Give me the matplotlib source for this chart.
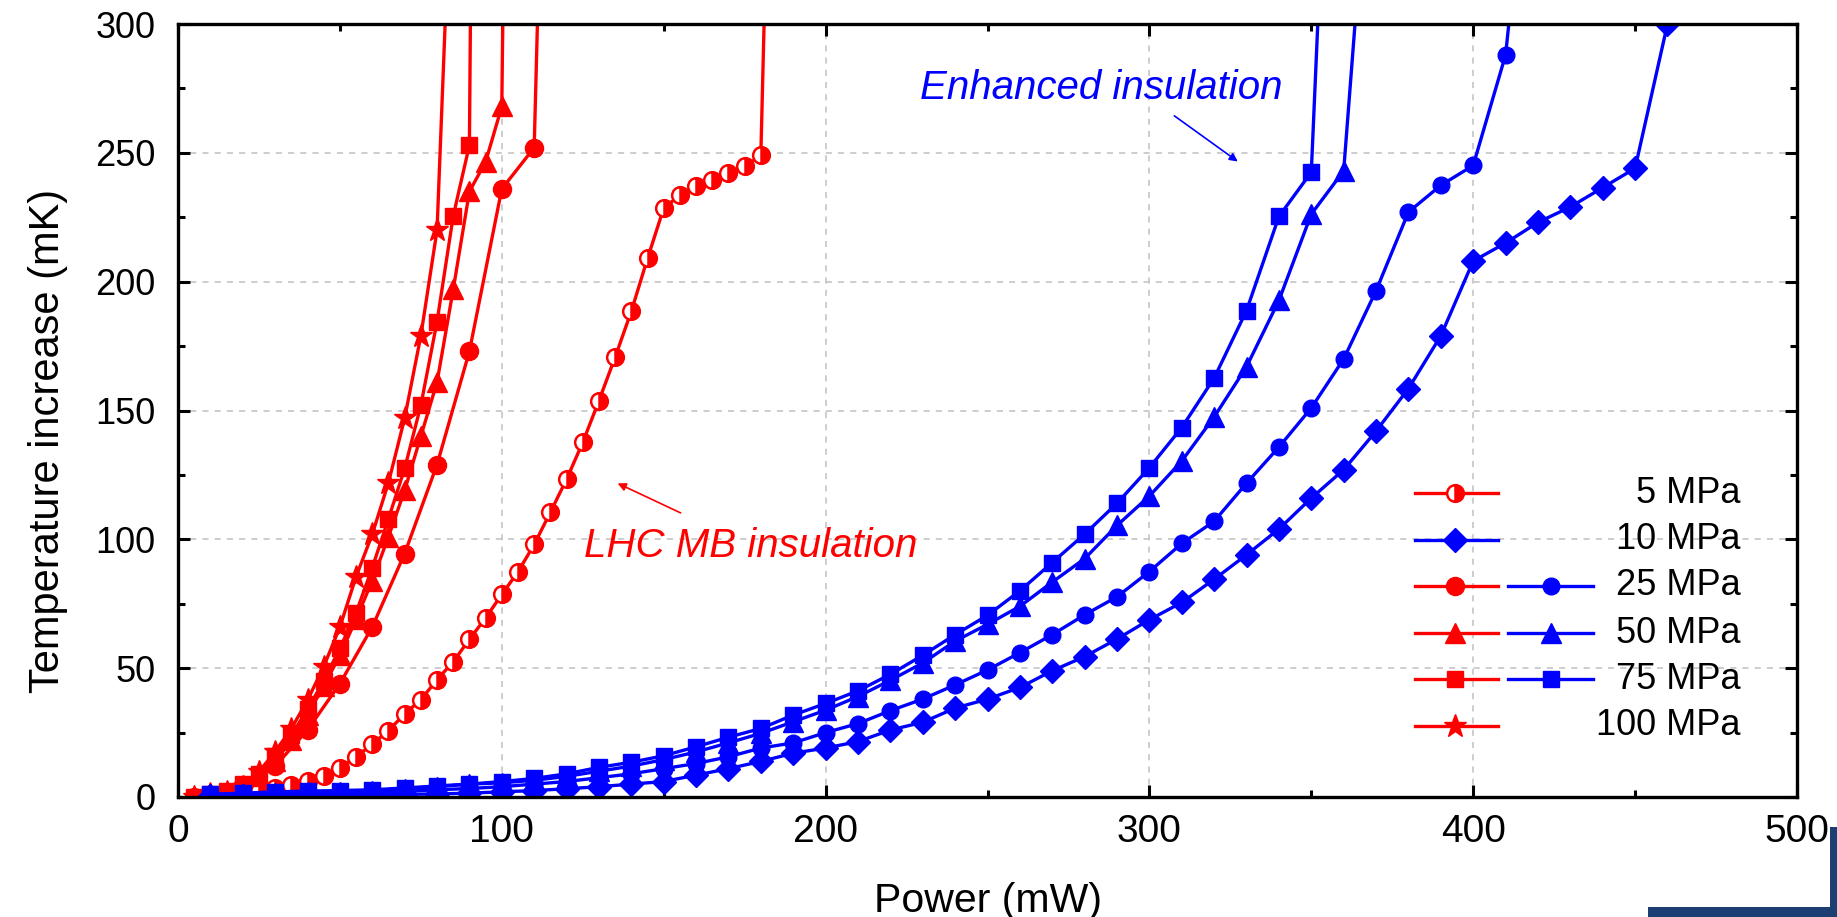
import matplotlib
matplotlib.use("Agg")
import matplotlib.pyplot as plt
from matplotlib.ticker import MultipleLocator
from matplotlib.patches import Rectangle

plt.rcParams['font.family'] = ['Liberation Sans', 'DejaVu Sans']

# ---------------- data ----------------
# LHC MB insulation (red)
red5_p = [5, 10, 15, 20, 25, 30, 35, 40, 45, 50, 55, 60, 65, 70, 75, 80, 85, 90,
          95, 100, 105, 110, 115, 120, 125, 130, 135, 140, 145, 150, 155, 160,
          165, 170, 175, 180, 181]
red5_t = [0, 0.3, 0.8, 1.5, 2.5, 3.5, 4.5, 6.2, 8.2, 11.4, 15.6, 20.5, 25.8, 32.2,
          37.8, 45.5, 52.5, 61.2, 69.5, 78.6, 87.4, 98, 110.5, 123.3, 137.6, 153.8,
          170.7, 188.5, 209, 228.5, 233.6, 237.2, 239.3, 242.3, 244.7, 249, 300]

red25_p = [10, 20, 30, 40, 50, 60, 70, 80, 90, 100, 110, 111]
red25_t = [0.8, 4.5, 12, 26, 44, 66, 94.5, 129, 173, 236, 252, 300]

red50_p = [5, 10, 15, 20, 25, 30, 35, 40, 45, 50, 55, 60, 65, 70, 75, 80, 85, 90,
           95, 100, 100.3]
red50_t = [0, 1, 2, 4, 8, 14, 22, 32, 43, 55, 69, 84, 101, 119, 140, 161, 197, 235,
           246.5, 268, 300]

red75_p = [5, 10, 15, 20, 25, 30, 35, 40, 45, 50, 55, 60, 65, 70, 75, 80, 85, 90, 90.3]
red75_t = [0, 1, 2.5, 5, 9, 16, 24, 34, 45, 57.7, 71.5, 89, 108, 127.5, 152, 184.5,
           225.5, 253, 300]

red100_p = [5, 10, 15, 20, 25, 30, 35, 40, 45, 50, 55, 60, 65, 70, 75, 80, 82.5]
red100_t = [0, 1, 2, 4, 9.8, 17.6, 26.5, 37.6, 50.6, 66, 85.5, 102, 122, 147, 179,
            220, 300]

# Enhanced insulation (blue)
blue_p = [10, 20, 30, 40, 50, 60, 70, 80, 90, 100, 110, 120, 130, 140, 150, 160,
          170, 180, 190, 200, 210, 220, 230, 240, 250, 260, 270, 280, 290, 300,
          310, 320, 330, 340, 350, 360, 370, 380, 390, 400, 410, 420, 430, 440,
          450, 460]
blue10_t = [0.5, 0.5, 0.5, 0.5, 0.5, 0.8, 1, 1.2, 1.5, 2, 2.5, 3.2, 4, 5, 6, 8.5,
            11, 13.8, 17, 19, 21.5, 26, 29, 34.5, 38, 42.5, 49, 54.5, 61.3, 68.8,
            75.5, 84.5, 94, 104, 116, 127, 142, 158.5, 179, 208, 215, 223, 229,
            236.5, 244, 300]

blue25_p = blue_p[:41] + [411]
blue25_t = [0.5, 0.7, 1, 1.2, 1.5, 1.8, 2.2, 2.8, 3.3, 4, 5, 6, 7.5, 9, 11, 13,
            15.6, 19, 21, 25, 28.5, 33.5, 38, 43.5, 49.3, 56, 63, 70.7, 77.7, 87.5,
            98.4, 107, 121.8, 135.8, 151, 170, 196.5, 227, 237.4, 245.1, 288, 300]

blue50_p = blue_p[:36] + [363.5]
blue50_t = [1, 1.2, 1.5, 1.8, 2, 2.5, 3.2, 4, 5, 5.5, 6.5, 8, 10, 12, 14.5, 17.5,
            21, 24.7, 29.2, 33.7, 39, 45.3, 52, 60.5, 67, 74, 83.4, 92.5, 105.4,
            116.8, 130.4, 147.5, 167, 192.7, 226.2, 243, 300]

blue75_p = blue_p[:35] + [352]
blue75_t = [1, 1.5, 2, 2.3, 2.5, 2.8, 3.5, 4.3, 5, 6, 7.2, 9, 11.5, 13.5, 16, 19.5,
            23.2, 26.6, 31.8, 36.3, 41.2, 47.6, 55, 63, 70.5, 80, 91, 102, 114,
            127.8, 143.4, 162.6, 188.8, 225.3, 242.5, 300]

legend_labels = ["5 MPa", "10 MPa", "25 MPa", "50 MPa", "75 MPa", "100 MPa"]
x_ticks = [0, 100, 200, 300, 400, 500]
y_ticks = [0, 50, 100, 150, 200, 250, 300]

RED = '#ff0000'
BLUE = '#0000ff'

# ---------------- figure ----------------
fig = plt.figure(figsize=(18.37, 9.17), dpi=100)
ax = fig.add_axes([178 / 1837, 1 - 797 / 917, 1619 / 1837, 773 / 917])

lw = 2.4
tail = slice(0, -1)

styles = {
    'r5': dict(marker='o', ms=12, fillstyle='right', mfc=RED, mfcalt='white', mec=RED, mew=1.8),
    'r25': dict(marker='o', ms=13, mfc=RED, mec=RED),
    'r50': dict(marker='^', ms=15, mfc=RED, mec=RED),
    'r75': dict(marker='s', ms=12, mfc=RED, mec=RED),
    'r100': dict(marker='*', ms=17, mfc=RED, mec=RED),
    'b10': dict(marker='D', ms=12, mfc=BLUE, mec=BLUE),
    'b25': dict(marker='o', ms=12, mfc=BLUE, mec=BLUE),
    'b50': dict(marker='^', ms=15, mfc=BLUE, mec=BLUE),
    'b75': dict(marker='s', ms=12, mfc=BLUE, mec=BLUE),
}

ax.plot(red5_p, red5_t, color=RED, lw=lw, markevery=tail, **styles['r5'])
ax.plot(red25_p, red25_t, color=RED, lw=lw, markevery=tail, **styles['r25'])
ax.plot(red50_p, red50_t, color=RED, lw=lw, markevery=tail, **styles['r50'])
ax.plot(red75_p, red75_t, color=RED, lw=lw, markevery=tail, **styles['r75'])
ax.plot(red100_p, red100_t, color=RED, lw=lw, markevery=tail, **styles['r100'])

ax.plot(blue_p, blue10_t, color=BLUE, lw=lw, **styles['b10'])
ax.plot(blue25_p, blue25_t, color=BLUE, lw=lw, markevery=tail, **styles['b25'])
ax.plot(blue50_p, blue50_t, color=BLUE, lw=lw, markevery=tail, **styles['b50'])
ax.plot(blue75_p, blue75_t, color=BLUE, lw=lw, markevery=tail, **styles['b75'])

ax.set_xlim(0, 500)
ax.set_ylim(0, 300)
ax.set_xticks(x_ticks)
ax.set_yticks(y_ticks)
ax.xaxis.set_minor_locator(MultipleLocator(50))
ax.yaxis.set_minor_locator(MultipleLocator(25))
ax.tick_params(which='both', direction='in', top=True, right=True, width=2.2)
ax.tick_params(which='major', length=8.6)
ax.tick_params(axis='x', which='major', labelsize=28, pad=12)
ax.tick_params(axis='y', which='major', labelsize=26, pad=16)
ax.tick_params(which='minor', length=4.7)
for s in ax.spines.values():
    s.set_linewidth(2.4)
ax.grid(True, which='major', color='#c0c0c0', linestyle=(0, (4, 4)), linewidth=1.1)
ax.set_axisbelow(True)

ax.set_xlabel('Power (mW)', fontsize=29.5, labelpad=23)
ax.set_ylabel('Temperature increase (mK)', fontsize=30)
ax.yaxis.set_label_coords(-0.068, 0.46)

# annotations
ax.text(125.5, 97.5, 'LHC MB insulation', color=RED, fontsize=29, style='italic',
        ha='left', va='center')
ax.annotate('', xy=(135, 122.2), xytext=(156, 109.8),
            arrowprops=dict(arrowstyle='-|>', color=RED, lw=1.2, mutation_scale=12))
ax.text(229, 275, 'Enhanced insulation', color=BLUE, fontsize=29, style='italic',
        ha='left', va='center')
ax.annotate('', xy=(328, 246), xytext=(307, 265),
            arrowprops=dict(arrowstyle='-|>', color=BLUE, lw=1.2, mutation_scale=12))

# legend (manual, in axes fraction)
row_y = [0.3929, 0.3325, 0.2730, 0.2118, 0.1523, 0.0922]
red_keys = ['r5', None, 'r25', 'r50', 'r75', 'r100']
blue_keys = [None, 'b10', 'b25', 'b50', 'b75', None]
seg_a = (0.7641, 0.7887, 0.8155)
seg_b = (0.8218, 0.8481, 0.8743)
for yy, rk, bk, lab in zip(row_y, red_keys, blue_keys, legend_labels):
    if rk is not None:
        ax.plot(seg_a, [yy] * 3, color=RED, lw=lw, markevery=[1], transform=ax.transAxes,
                clip_on=False, **styles[rk])
    if bk is not None:
        seg = seg_a if rk is None else seg_b
        ax.plot(seg, [yy] * 3, color=BLUE, lw=lw, markevery=[1], transform=ax.transAxes,
                clip_on=False, **styles[bk])
    ax.text(0.9653, yy, lab, transform=ax.transAxes, ha='right', va='center', fontsize=26)

# screenshot remnant at bottom-right corner
fig.patches.append(Rectangle((1830 / 1837, 0), 7 / 1837, 90 / 917, transform=fig.transFigure,
                             facecolor='#1c3f73', edgecolor='none'))
fig.patches.append(Rectangle((1648 / 1837, 0), 189 / 1837, 10 / 917, transform=fig.transFigure,
                             facecolor='#1c3f73', edgecolor='none'))

fig.savefig('out.png', dpi=100)
